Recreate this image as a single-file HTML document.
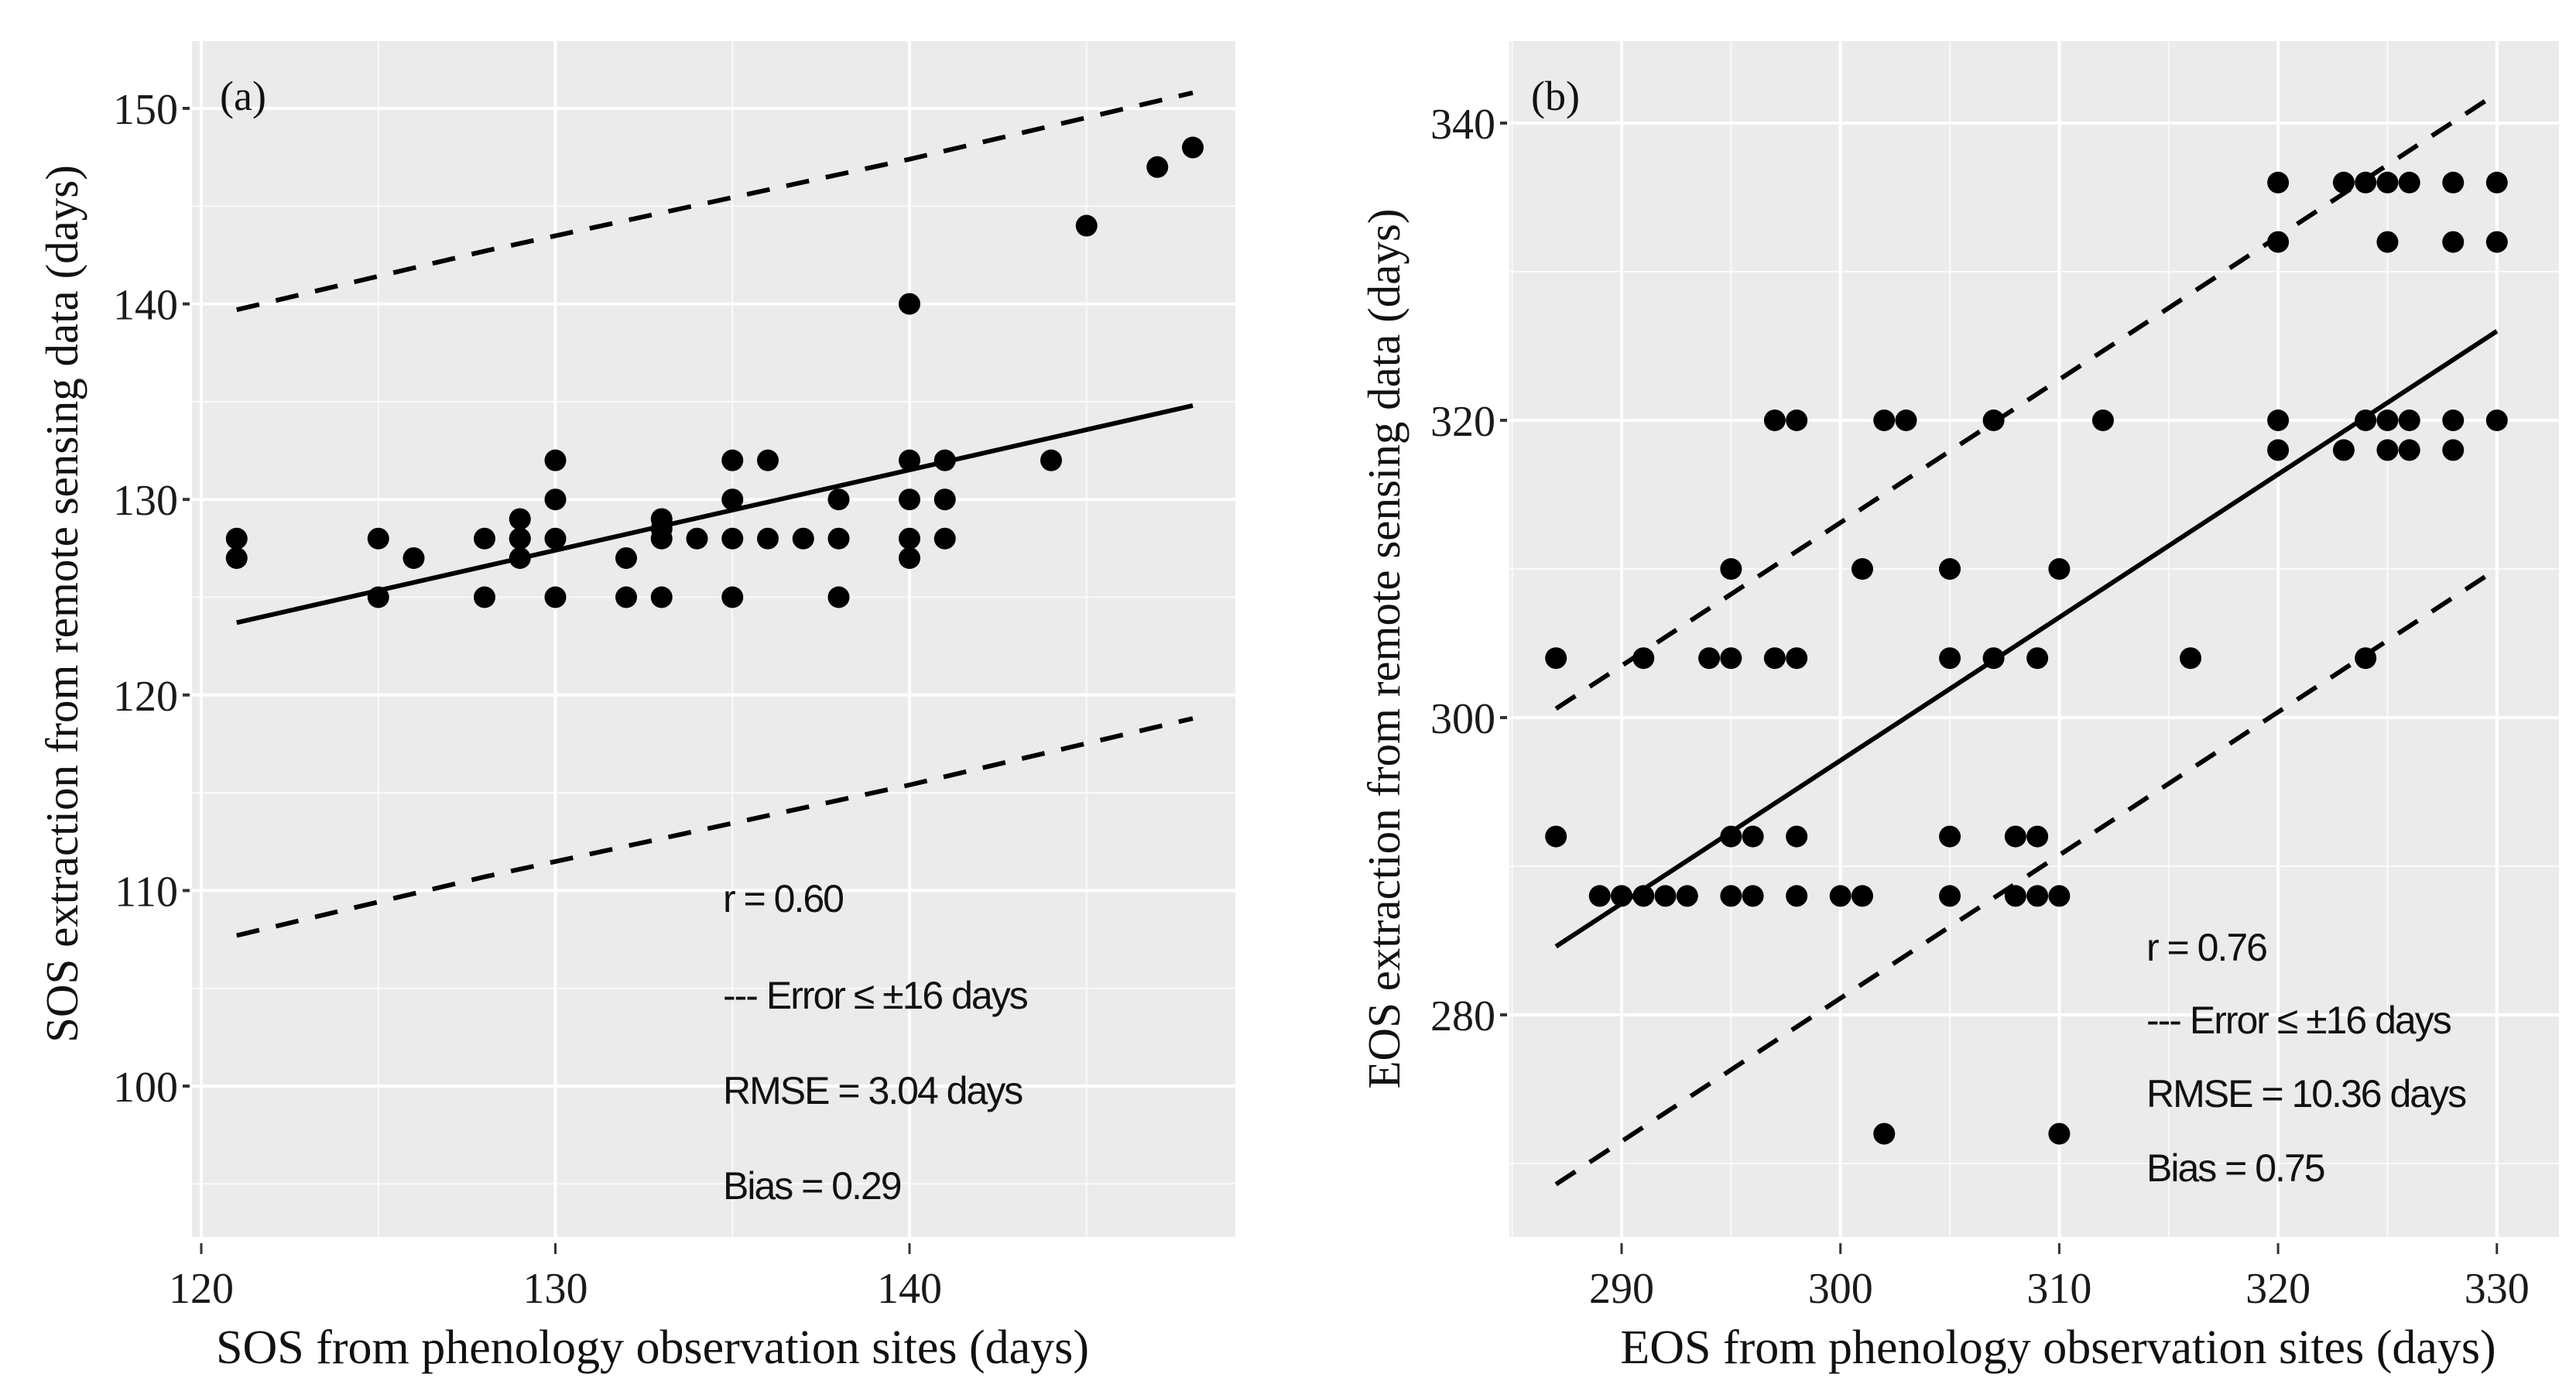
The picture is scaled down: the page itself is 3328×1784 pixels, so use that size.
<!DOCTYPE html>
<html><head><meta charset="utf-8"><style>
html,body{margin:0;padding:0;background:#fff;}
svg{display:block;}
.tick{font-family:"Liberation Serif",serif;font-size:56px;fill:#1a1a1a;}
.title{font-family:"Liberation Serif",serif;fill:#111;}
.ann{font-family:"Liberation Sans",sans-serif;font-size:50px;fill:#111;letter-spacing:-2px;}
</style></head><body>
<svg id="chart" width="3328" height="1784" viewBox="0 0 3328 1784" xmlns="http://www.w3.org/2000/svg"></svg>
<script>
// Panel (a) data
const aX = [121,121,125,125,126,128,128,129,129,129,129,130,130,130,130,132,132,133,133,133,133,134,135,135,135,135,136,136,137,138,138,138,140,140,140,140,140,141,141,141,144,145,147,148];
const aY = [127,128,128,125,127,128,125,129,128,127,128,132,130,128,125,127,125,129,128.5,128,125,128,132,130,128,125,132,128,128,130,128,125,140,132,130,128,127,132,130,128,132,144,147,148];
const aXTicks = [120,130,140];
const aYTicks = [100,110,120,130,140,150];
const aFit = [[121,123.7],[148,134.8]];
const aUpper = [[121,139.7],[128,142.7],[140,147.4],[148,150.8]];
const aLower = [[121,107.7],[128,110.7],[140,115.4],[148,118.8]];
const aAnn = ["r = 0.60","--- Error \u2264 \u00b116 days","RMSE = 3.04 days","Bias = 0.29"];
// Panel (b) data
const bX = [287,287,289,290,291,291,292,293,294,295,295,295,295,296,296,297,297,298,298,298,298,300,301,301,302,302,303,305,305,305,305,307,307,308,308,309,309,309,310,310,310,312,316,320,320,320,320,323,323,324,324,324,325,325,325,325,326,326,326,328,328,328,328,330,330,330];
const bY = [304,292,288,288,304,288,288,288,304,310,304,292,288,292,288,320,304,320,304,292,288,288,310,288,320,272,320,310,304,292,288,320,304,292,288,304,292,288,310,288,272,320,304,336,332,320,318,336,318,336,320,304,336,332,320,318,336,320,318,336,332,320,318,336,332,320];
const bXTicks = [290,300,310,320,330];
const bYTicks = [280,300,320,340];
const bFit = [[287,284.6],[330,326]];
const bUpper = [[287,300.6],[330,342]];
const bLower = [[287,268.6],[330,310]];
const bAnn = ["r = 0.76","--- Error \u2264 \u00b116 days","RMSE = 10.36 days","Bias = 0.75"];

const NS="http://www.w3.org/2000/svg";
const svg=document.getElementById('chart');
function mk(tag,attrs,parent){const e=document.createElementNS(NS,tag);for(const k in attrs)e.setAttribute(k,attrs[k]);(parent||svg).appendChild(e);return e;}

function panel(cfg){
  const g=mk('g',{});
  
  
  const sx=v=>cfg.x0px+(v-cfg.x0)*cfg.xs;
  const sy=v=>cfg.y0px-(v-cfg.y0)*cfg.ys;
  const bg=mk('rect',{x:cfg.L,y:cfg.T,width:cfg.R-cfg.L,height:cfg.B-cfg.T,fill:'#ebebeb'},g);
  
  
  const xs=cfg.xT, ys=cfg.yT, dx=xs[1]-xs[0], dy=ys[1]-ys[0];
  for(let v=xs[0]-dx/2; v<=xs[xs.length-1]+dx/2; v+=dx){const p=sx(v); if(p>cfg.L&&p<cfg.R) mk('line',{x1:p,x2:p,y1:cfg.T,y2:cfg.B,stroke:'#fafafa','stroke-width':2},g);}
  for(let v=ys[0]-dy/2; v<=ys[ys.length-1]+dy/2; v+=dy){const p=sy(v); if(p>cfg.T&&p<cfg.B) mk('line',{x1:cfg.L,x2:cfg.R,y1:p,y2:p,stroke:'#fafafa','stroke-width':2},g);}
  xs.forEach(v=>{const p=sx(v);
    mk('line',{x1:p,x2:p,y1:cfg.T,y2:cfg.B,stroke:'#fff','stroke-width':4},g);
    mk('line',{x1:p,x2:p,y1:cfg.B+8,y2:cfg.B+22,stroke:'#333','stroke-width':3},g);
    const t=mk('text',{x:p,y:1683,'text-anchor':'middle',class:'tick'},g);t.textContent=v;
    
    });
  ys.forEach(v=>{const p=sy(v);
    mk('line',{x1:cfg.L,x2:cfg.R,y1:p,y2:p,stroke:'#fff','stroke-width':4},g);
    mk('line',{x1:cfg.L-12,x2:cfg.L-3,y1:p,y2:p,stroke:'#333','stroke-width':4},g);
    const t=mk('text',{x:cfg.L-18,y:p+20,'text-anchor':'end',class:'tick'},g);t.textContent=v;
    
    });
  const ln=(pts,dash,name)=>{const e=mk('polyline',{points:pts.map(p=>sx(p[0])+','+sy(p[1])).join(' '),fill:'none',stroke:'#000','stroke-width':6,'stroke-dasharray':dash||'none'},g);
    
    };
  ln(cfg.up,'30,22','upper-error-line');ln(cfg.lo,'30,22','lower-error-line');ln(cfg.fit,null,'fit-line');
  cfg.px.forEach((v,i)=>{const c=mk('circle',{cx:sx(v),cy:sy(cfg.py[i]),r:14,fill:'#000'},g);
    
    });
  cfg.ann.forEach((s,i)=>{const t=mk('text',{x:cfg.annX,y:cfg.annY[i],class:'ann'},g);t.textContent=s;
    
    });
  const lab=mk('text',{x:cfg.labX,y:142,class:'title','font-size':'54'},g);lab.textContent=cfg.label;
  
  
  const xt=mk('text',{x:cfg.xtX,y:1761,'text-anchor':'middle',class:'title','font-size':'62'},g);xt.textContent=cfg.xt;
  
  
  const yt=mk('text',{x:0,y:0,'text-anchor':'middle',class:'title','font-size':'59',transform:`translate(${cfg.ytX},${cfg.ytY}) rotate(-90)`},g);yt.textContent=cfg.yt;
  
  
}
panel({name:'panel-a',L:248,R:1596,T:53,B:1598,x0:120,x0px:260,xs:45.75,y0:100,y0px:1403,ys:25.26,
  xT:aXTicks,yT:aYTicks,px:aX,py:aY,fit:aFit,up:aUpper,lo:aLower,ann:aAnn,annX:934,annY:[1178,1303,1426,1549],
  label:'(a)',labX:284,xtX:843,xt:'SOS from phenology observation sites (days)',ytX:100,ytY:780,yt:'SOS extraction from remote sensing data (days)'});
panel({name:'panel-b',L:1950,R:3306,T:53,B:1598,x0:290,x0px:2095,xs:28.27,y0:280,y0px:1311,ys:19.2,
  xT:bXTicks,yT:bYTicks,px:bX,py:bY,fit:bFit,up:bUpper,lo:bLower,ann:bAnn,annX:2773,annY:[1241,1335,1430,1526],
  label:'(b)',labX:1978,xtX:2659,xt:'EOS from phenology observation sites (days)',ytX:1808,ytY:838,yt:'EOS extraction from remote sensing data (days)'});
</script>
</body></html>
